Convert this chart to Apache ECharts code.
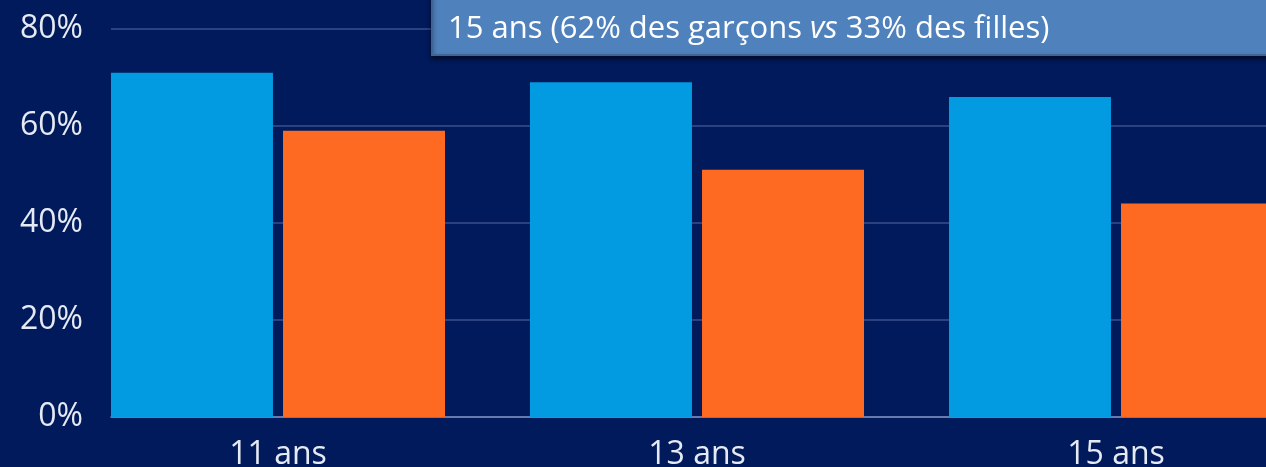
<!DOCTYPE html>
<html>
<head>
<meta charset="utf-8">
<title>Garçons / filles par âge</title>
<script src="https://cdn.jsdelivr.net/npm/echarts@6/dist/echarts.min.js"></script>
<style>
  html, body { margin: 0; padding: 0; background: #011a5b; }
  #chart { width: 1266px; height: 467px; }
</style>
</head>
<body>
<div id="chart"></div>
<script>
// categories and values (%)
const categories = ['11 ans', '13 ans', '15 ans'];
const garcons = [71, 69, 66];
const filles = [59, 51, 44];
const yTicks = [0, 20, 40, 60, 80];

const chart = echarts.init(document.getElementById('chart'));

const labelFont = { fontFamily: 'Open Sans', fontSize: 32, color: '#e6eaf4' };

const option = {
  backgroundColor: '#011a5b',
  animation: false,
  grid: [
    // bars (the plot is wider than the window, last bar is cut on the right)
    { left: 68.5, top: 29, width: 1257, height: 388, outerBoundsMode: 'none' },
    // grid lines and y labels
    { left: 111, top: 29, right: 0, height: 388, outerBoundsMode: 'none' }
  ],
  xAxis: [
    {
      type: 'category', gridIndex: 0, data: categories,
      axisLine: { show: false }, axisTick: { show: false },
      axisLabel: Object.assign({ margin: 22 }, labelFont)
    },
    {
      type: 'category', gridIndex: 1, data: [''],
      axisLine: { show: true, lineStyle: { color: '#7d8cbc', width: 1.5 } },
      axisTick: { show: false }, axisLabel: { show: false }
    }
  ],
  yAxis: [
    { type: 'value', gridIndex: 0, min: 0, max: 80, show: false, splitLine: { show: false } },
    {
      type: 'value', gridIndex: 1, min: yTicks[0], max: yTicks[yTicks.length - 1], interval: 20,
      axisLine: { show: false }, axisTick: { show: false },
      splitLine: { lineStyle: { color: '#3a4f8c', width: 1.5 } },
      axisLabel: Object.assign({ margin: 28, formatter: '{value}%' }, labelFont)
    }
  ],
  series: [
    {
      name: 'Garçons', type: 'bar', xAxisIndex: 0, yAxisIndex: 0,
      data: garcons, barWidth: 162, barGap: '6.2%',
      itemStyle: { color: '#029ae0' }
    },
    {
      name: 'Filles', type: 'bar', xAxisIndex: 0, yAxisIndex: 0,
      data: filles, barWidth: 162,
      itemStyle: { color: '#ff6a22' }
    }
  ],
  graphic: [
    {
      type: 'rect', z: 100,
      shape: { x: 432, y: -10, width: 900, height: 65 },
      style: {
        fill: '#4f81bd', stroke: '#3e6597', lineWidth: 2,
        shadowBlur: 4, shadowOffsetY: 3, shadowColor: 'rgba(0,0,0,0.5)'
      }
    },
    {
      type: 'text', z: 101, left: 448, top: 14,
      style: {
        text: '{n|15 ans (62% des garçons }{i|vs}{n| 33% des filles)}',
        rich: {
          n: { fontFamily: 'Open Sans', fontSize: 31, fill: '#ffffff' },
          i: { fontFamily: 'Open Sans', fontSize: 31, fontStyle: 'italic', fill: '#ffffff' }
        }
      }
    }
  ]
};

chart.setOption(option);
</script>
</body>
</html>
